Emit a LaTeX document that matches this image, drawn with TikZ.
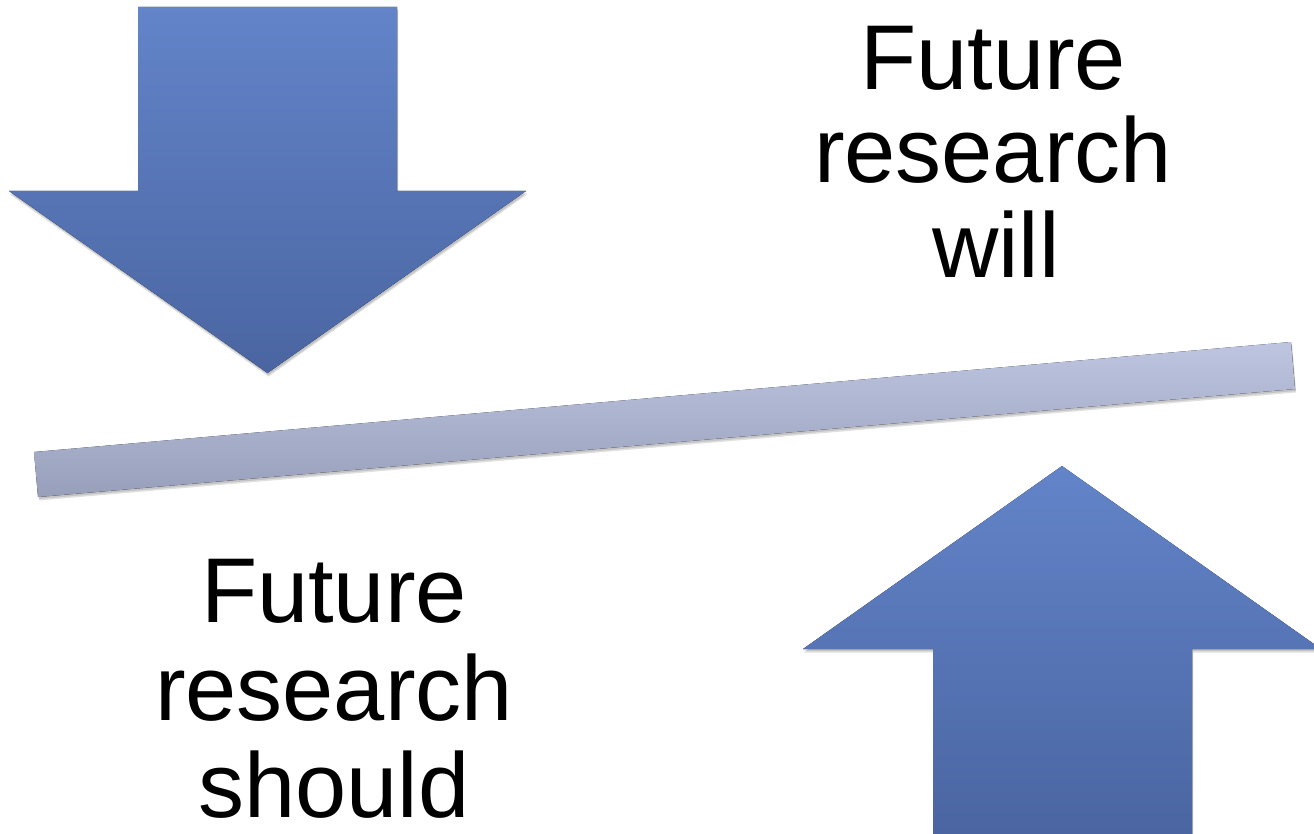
\documentclass[tikz,border=0pt]{standalone}
\usepackage{fontspec}
\setmainfont{Liberation Sans}
\definecolor{arrowtop}{RGB}{99,132,201}
\definecolor{arrowbot}{RGB}{74,101,161}
\definecolor{bartop}{RGB}{189,197,225}
\definecolor{barbot}{RGB}{151,159,187}
\begin{document}
\begin{tikzpicture}[x=1pt,y=-1pt,
  arrowfill/.style={top color=arrowtop, bottom color=arrowbot, draw=none},
  barfill/.style={top color=bartop, bottom color=barbot, draw=none},
  shadowfill/.style={fill=black, opacity=0.12, draw=none},
  lbl/.style={font=\fontsize{92}{94}\selectfont, anchor=base, inner sep=0pt}]
\useasboundingbox (0,0) rectangle (1314,834);
\fill[white] (0,0) rectangle (1314,834);
% shadows
\foreach \d in {2,3.5}{
  \fill[shadowfill, shift={(1,\d)}] (138,7) -- (397,7) -- (397,191) -- (526,191) -- (267.5,373) -- (9,191) -- (138,191) -- cycle;
  \fill[shadowfill, shift={(1,\d)}] (34,452) -- (1291,342) -- (1295,389) -- (38,497) -- cycle;
  \fill[shadowfill, shift={(1,\d)}] (1062,466) -- (1321,649) -- (1192,649) -- (1192,834) -- (933,834) -- (933,649) -- (803,649) -- cycle;
}
% down arrow
\fill[arrowfill] (138,7) -- (397,7) -- (397,191) -- (526,191) -- (267.5,373) -- (9,191) -- (138,191) -- cycle;
% bar
\fill[barfill] (34,452) -- (1291,342) -- (1295,389) -- (38,497) -- cycle;
% up arrow
\fill[arrowfill] (1062,466) -- (1321,649) -- (1192,649) -- (1192,834) -- (933,834) -- (933,649) -- (803,649) -- cycle;
% texts
\node[lbl] (w1) at (993,90) {Future};
\node[lbl] (w2) at (993,183) {research};
\node[lbl] (w3) at (996,278) {will};
\node[lbl] (s1) at (334,622) {Future};
\node[lbl] (s2) at (334,720) {research};
\node[lbl] (s3) at (334,817) {should};
\end{tikzpicture}
\end{document}
